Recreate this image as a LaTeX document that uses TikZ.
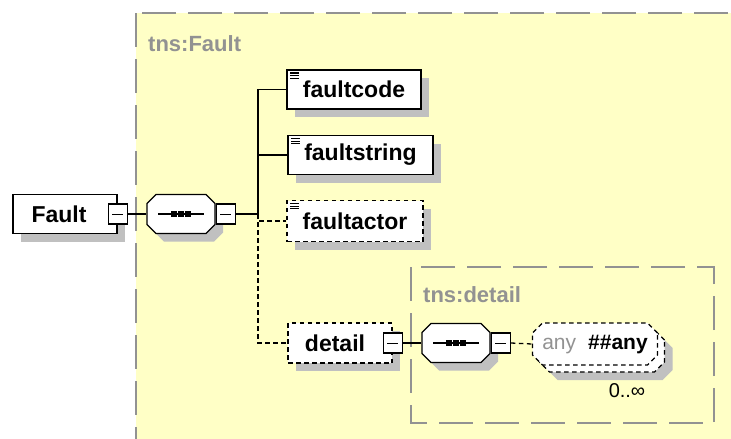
\documentclass[tikz,border=0pt]{standalone}
\usepackage{fontspec}
\setmainfont{Liberation Sans}
\usetikzlibrary{shapes.misc,shadows}

\definecolor{bgyellow}{RGB}{255,255,198}
\definecolor{framegray}{RGB}{146,146,146}
\definecolor{shadowgray}{RGB}{192,192,192}

\tikzset{
  shade box/.style={drop shadow={shadow xshift=8pt, shadow yshift=-8pt, fill=shadowgray, opacity=1}},
  elem/.style={draw, fill=white, line width=1.3pt, shade box, inner sep=0pt, minimum height=39pt,
    font=\fontsize{23}{23}\selectfont\bfseries},
  opt/.style={dash pattern=on 4.5pt off 3.5pt},
  conn/.style={line width=1.3pt},
  leaf/.style={path picture={
    \foreach \k in {0,1,2}
      \draw[black, solid, line width=1.2pt] ([xshift=3pt,yshift=-3pt-2.6*\k pt]path picture bounding box.north west) -- ++(9pt,0);}},
  minusbox/.style={draw, fill=white, line width=1.3pt, minimum width=19pt, minimum height=20pt, inner sep=0pt,
    path picture={\draw[black, solid, line width=1pt] ([xshift=4pt]path picture bounding box.west) -- ([xshift=-4pt]path picture bounding box.east);}},
  seqbox/.style={chamfered rectangle, chamfered rectangle sep=4.5pt, draw, fill=white, line width=1.3pt,
    inner sep=0pt, shade box,
    path picture={
      \draw[black, line width=1.3pt] ([xshift=11pt]path picture bounding box.west) -- ([xshift=-11pt]path picture bounding box.east);
      \foreach \k in {-7,0,7}
        \fill[black] ([xshift=\k pt]path picture bounding box.center) +(-2.6pt,-2.6pt) rectangle +(2.6pt,2.6pt);}},
  anybox/.style={chamfered rectangle, chamfered rectangle sep=5pt, draw, fill=white, line width=1.3pt, opt,
    inner sep=0pt, font=\fontsize{21}{21}\selectfont},
  grayname/.style={framegray, font=\fontsize{22}{22}\selectfont\bfseries, inner sep=0pt},
  frame/.style={framegray, line width=1.6pt, dash pattern=on 34pt off 12pt}
}

\begin{document}
\begin{tikzpicture}[x=1pt,y=-1pt]
  \useasboundingbox (0,0) rectangle (731,439);

  % complex type tns:Fault
  \draw[frame, fill=bgyellow] (136,13) rectangle (770,480);
  \node[grayname, anchor=west] (faultname) at (148,44) {tns:Fault};

  \node[elem, minimum width=104pt] (fault) at (65,214) {Fault\kern12pt};
  \node[minusbox] (fault-m) at (fault.east) {};

  \node[seqbox] (seq1) at (181,214) {\rule{59pt}{0pt}\rule[-15pt]{0pt}{30pt}};
  \node[minusbox, anchor=west] (seq1-m) at (seq1.east) {};
  \coordinate (bus) at (258,214);

  \node[elem, leaf, minimum width=134pt] (faultcode) at (354,89.5) {faultcode};
  \node[elem, leaf, minimum width=145pt] (faultstring) at (360.5,155) {faultstring};
  \node[elem, leaf, opt, minimum width=136pt, minimum height=41pt] (faultactor) at (355,221) {faultactor};
  \node[elem, opt, minimum width=104pt, minimum height=40pt] (detail) at (340,343) {detail\kern10pt};
  \node[minusbox] (detail-m) at (detail.east) {};

  % complex type tns:detail
  \draw[frame, fill=bgyellow] (411,267) rectangle (714,423);
  \node[grayname, anchor=west] (detailname) at (423,295) {tns:detail};

  \node[seqbox] (seq2) at (456,343) {\rule{59pt}{0pt}\rule[-15pt]{0pt}{30pt}};
  \node[minusbox, anchor=west] (seq2-m) at (seq2.east) {};

  \node[anybox, shade box] (any-back) at (602,351)
    {\rule[-11pt]{0pt}{32pt}\makebox[115pt]{}};
  \node[anybox] (any) at (595,344)
    {\rule[-11pt]{0pt}{32pt}\makebox[115pt]{\textcolor{framegray}{any}\hspace{12pt}\textbf{\#\#any}}};
  \node[font=\fontsize{20}{20}\selectfont, inner sep=0pt] (any-occ) at (627,391) {0..∞};

  \draw[conn] (fault-m.east) -- (seq1.west);
  \draw[conn] (seq1-m.east) -- (bus);
  \draw[conn] (bus) |- (faultcode.west);
  \draw[conn] (bus) |- (faultstring.west);
  \draw[conn, opt] (bus) |- (faultactor.west);
  \draw[conn, opt] (bus) |- (detail.west);
  \draw[conn] (detail-m.east) -- (seq2.west);
  \draw[conn, opt] (seq2-m.east) -- (any.west);
\end{tikzpicture}
\end{document}
